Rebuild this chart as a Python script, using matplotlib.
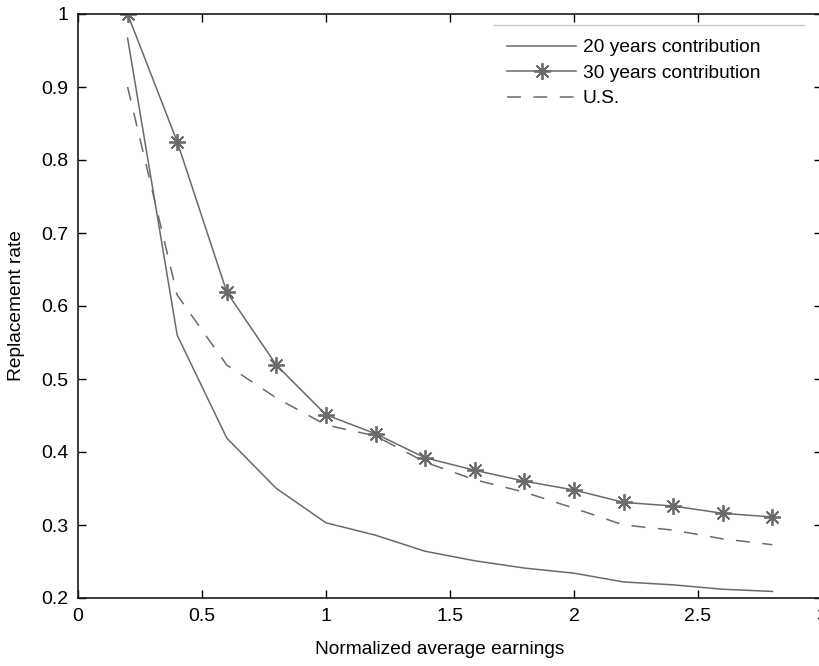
import matplotlib
matplotlib.use("Agg")
import matplotlib.pyplot as plt
from matplotlib.lines import Line2D

plt.rcParams['font.family'] = ['Liberation Sans', 'DejaVu Sans']
plt.rcParams['lines.scale_dashes'] = False

x = [0.2, 0.4, 0.6, 0.8, 1.0, 1.2, 1.4, 1.6, 1.8, 2.0, 2.2, 2.4, 2.6, 2.8]
y20 = [0.967, 0.56, 0.419, 0.35, 0.303, 0.286, 0.264, 0.251, 0.241, 0.234, 0.222, 0.218, 0.212, 0.209]
y30 = [1.0, 0.825, 0.619, 0.519, 0.451, 0.425, 0.392, 0.375, 0.360, 0.348, 0.331, 0.326, 0.316, 0.311]
yus = [0.90, 0.615, 0.519, 0.474, 0.437, 0.422, 0.386, 0.362, 0.345, 0.323, 0.300, 0.293, 0.281, 0.273]

labels = ['20 years contribution', '30 years contribution', 'U.S.']
xticks = [0, 0.5, 1, 1.5, 2, 2.5, 3]
xticklabels = ['0', '0.5', '1', '1.5', '2', '2.5', '3']
yticks = [0.2, 0.3, 0.4, 0.5, 0.6, 0.7, 0.8, 0.9, 1.0]
yticklabels = ['0.2', '0.3', '0.4', '0.5', '0.6', '0.7', '0.8', '0.9', '1']

col = '#6a6a6a'
fig = plt.figure(figsize=(8.19, 6.66), dpi=100)
ax = fig.add_axes([78/819, 68/666, 744/819, 584/666])

ax.plot(x, y20, color=col, lw=1.1, label=labels[0])
ax.plot(x, y30, color=col, lw=1.1, marker=(8, 2, 0), markersize=12,
        markeredgewidth=1.3, markeredgecolor=col, label=labels[1])
ax.plot(x, yus, color=col, lw=1.1, linestyle=(0, (10, 9)), label=labels[2])

ax.set_xlim(0, 3)
ax.set_ylim(0.2, 1.0)
ax.set_xticks(xticks)
ax.set_xticklabels(xticklabels)
ax.set_yticks(yticks)
ax.set_yticklabels(yticklabels)
ax.tick_params(direction='in', length=6, width=1, top=True, right=True,
               labelsize=14, colors='black', pad=7)
for s in ax.spines.values():
    s.set_linewidth(1.2)
    s.set_color('#1a1a1a')

ax.set_xlabel('Normalized average earnings', fontsize=13.8)
ax.xaxis.set_label_coords((440 - 78) / 744, -(641 - 598) / 584)
ax.set_ylabel('Replacement rate', fontsize=13.8)
ax.yaxis.set_label_coords(-(78 - 25) / 744, 0.5)

leg = ax.legend(loc='upper left', bbox_to_anchor=(507/819, 1 - 39/666),
                bbox_transform=fig.transFigure, frameon=False, fontsize=13.8,
                handlelength=3.6, handletextpad=0.36, labelspacing=0.42,
                borderaxespad=0, borderpad=0)
fig.add_artist(Line2D([494/819, 804/819], [1 - 25/666, 1 - 25/666],
                      transform=fig.transFigure, color='#c8c8c8', lw=1))

fig.savefig('out.png', dpi=100)
